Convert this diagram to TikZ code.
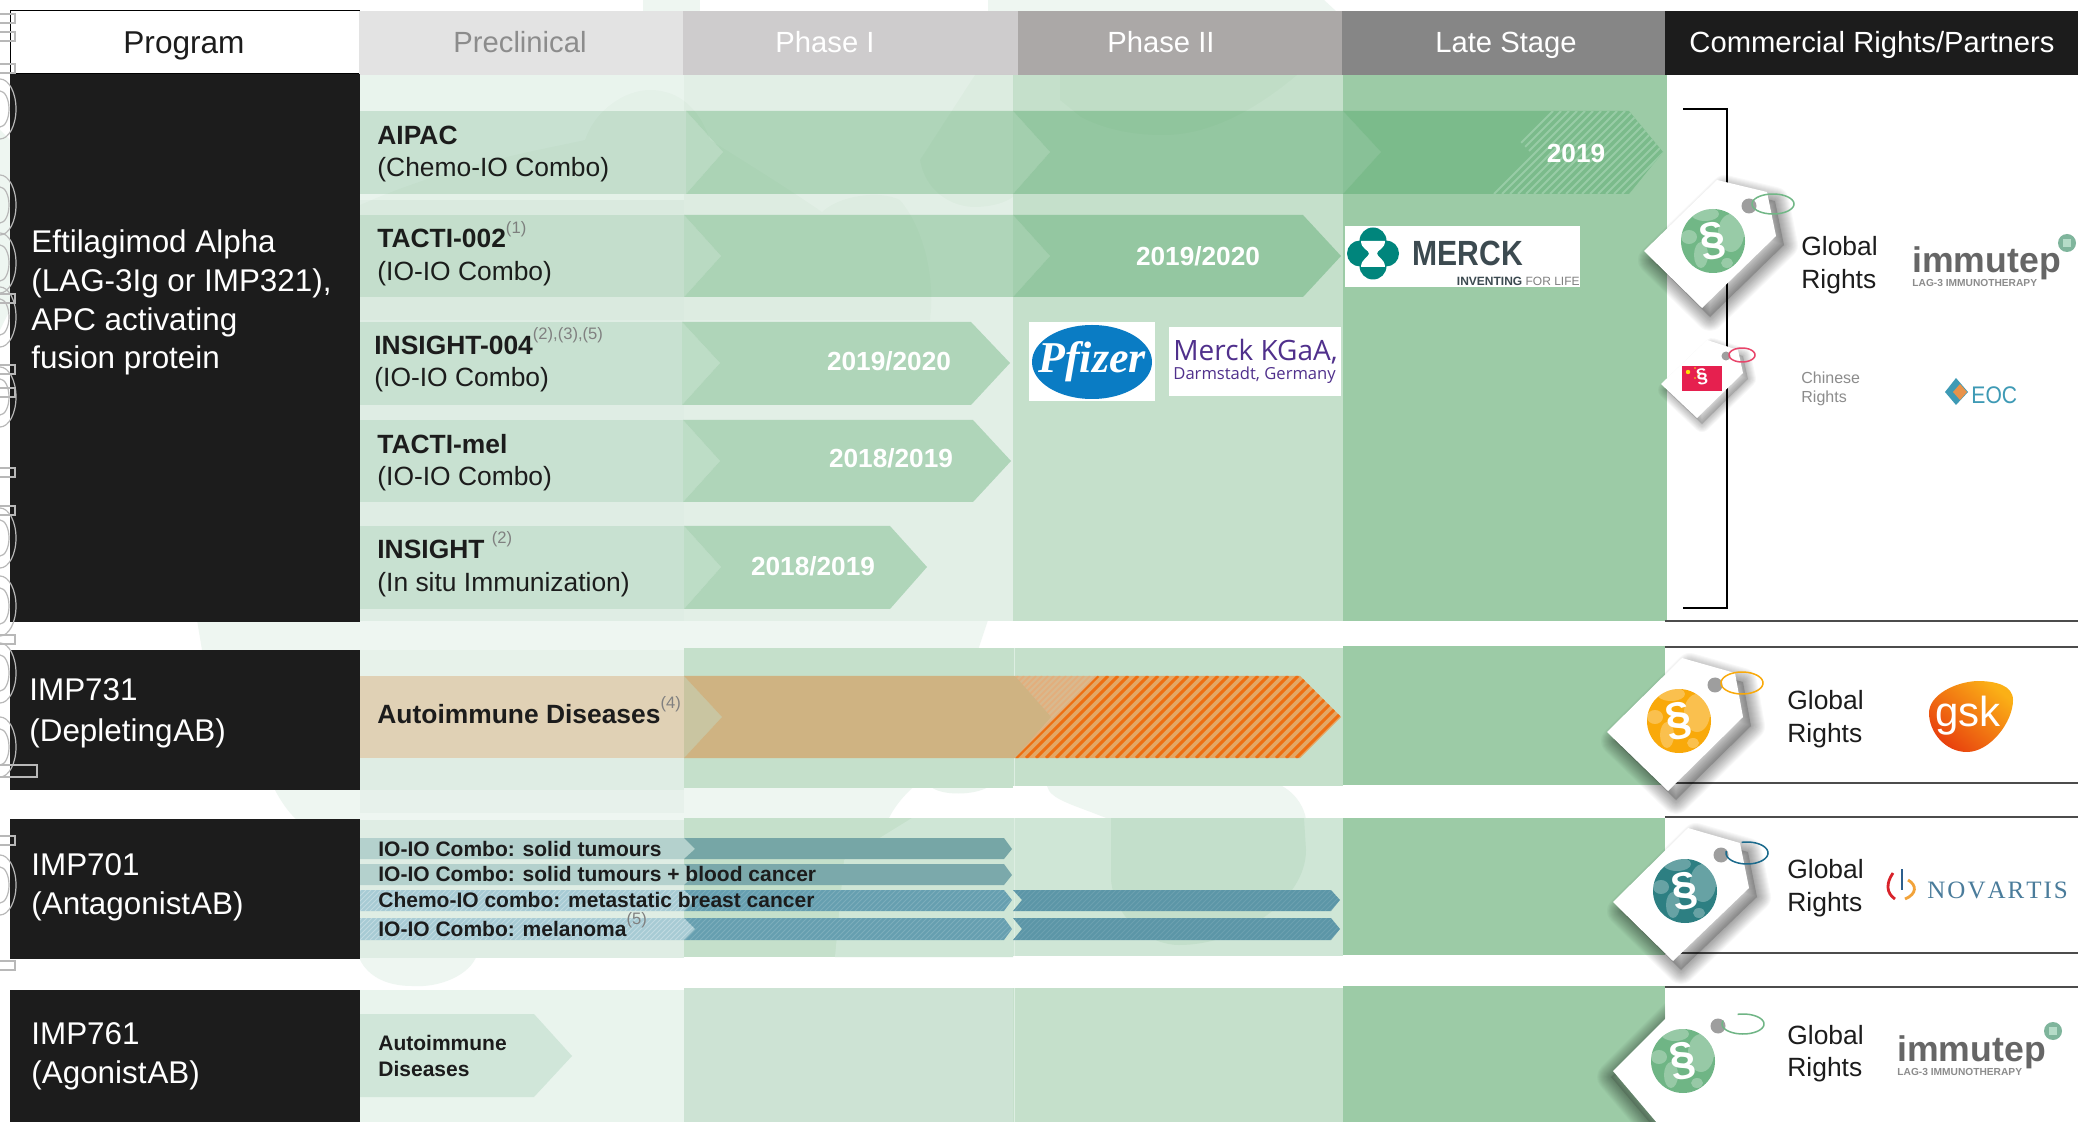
\documentclass[tikz,border=0pt]{standalone}
\usepackage{fontspec}
\usepackage{graphicx}
\setmainfont{Liberation Sans}
\newfontfamily\serifpf{Liberation Serif}
\newfontfamily\opensans{Open Sans}
\usetikzlibrary{calc}
\definecolor{ink}{HTML}{1C1C1C}
\definecolor{wm}{HTML}{EEF6F1}
\definecolor{wmb}{HTML}{E7F1EB}
\definecolor{bandA}{HTML}{E7F2EA}
\definecolor{bandB}{HTML}{C5E0CB}
\definecolor{bandC}{HTML}{9CCBA6}
\definecolor{bandD}{HTML}{E9F4ED}
\definecolor{bandE}{HTML}{DFEDE4}
\definecolor{bandF}{HTML}{E2EFE6}
\definecolor{bandG}{HTML}{CFE6D6}
\definecolor{bandH}{HTML}{C3DFCB}
\definecolor{bandI}{HTML}{CDE3D4}
\definecolor{edgeln}{HTML}{DDEEE2}
\definecolor{gA}{HTML}{C8E1D1}
\definecolor{gB}{HTML}{AFD5B9}
\definecolor{gC}{HTML}{94C7A1}
\definecolor{gD}{HTML}{7BBB8B}
\definecolor{tipA}{HTML}{BDDDC6}
\definecolor{tipB}{HTML}{A3CFAE}
\definecolor{tipC}{HTML}{88C197}
\definecolor{supg}{HTML}{808080}
\definecolor{hA}{HTML}{CECCCD}
\definecolor{hB}{HTML}{ABA8A7}
\definecolor{hC}{HTML}{868686}
\definecolor{hatchg}{HTML}{98CCA6}
\definecolor{tanA}{HTML}{E0D1B5}
\definecolor{tanB}{HTML}{CFB382}
\definecolor{tanC}{HTML}{E3A766}
\definecolor{tanD}{HTML}{D9B98E}
\definecolor{tanE}{HTML}{E3AE7C}
\definecolor{tanT}{HTML}{C9C5A1}
\definecolor{orangeh}{HTML}{EE6E12}
\definecolor{tlA}{HTML}{B4D1CD}
\definecolor{tlB}{HTML}{76A6A6}
\definecolor{tlC}{HTML}{7BA9AB}
\definecolor{tlD}{HTML}{A7CBD4}
\definecolor{tlE}{HTML}{669FB0}
\definecolor{tlF}{HTML}{5C96A7}
\definecolor{paleg}{HTML}{D0E6D9}
\definecolor{merckt}{HTML}{00857C}
\definecolor{merckd}{HTML}{3C4A50}
\definecolor{pfz}{HTML}{0A7CC4}
\definecolor{kgaa}{HTML}{50308C}
\definecolor{tagg}{HTML}{71B786}
\definecolor{tago}{HTML}{F9A90A}
\definecolor{tagt}{HTML}{2D7F82}
\definecolor{tagf}{HTML}{6FB585}
\definecolor{ringt}{HTML}{1B6A8C}
\definecolor{tagr}{HTML}{E6204F}
\definecolor{ringr}{HTML}{E8456A}
\definecolor{imc}{HTML}{7FB59C}
\definecolor{imd}{HTML}{B5DCC8}
\definecolor{eocb}{HTML}{3E9AB5}
\definecolor{eoco}{HTML}{E8924A}
\definecolor{gskt}{HTML}{FBB016}
\definecolor{gskm}{HTML}{F07A10}
\definecolor{gskb}{HTML}{E8400E}
\definecolor{novr}{HTML}{D8232A}
\definecolor{novo}{HTML}{F2A33A}
\definecolor{novb}{HTML}{2C5F8D}
\definecolor{novt}{HTML}{4A7C9B}
\tikzset{
  x=0.5pt,y=-0.5pt,
  tx/.style={inner sep=0pt,anchor=base west},
  lab/.style={tx,font=\fontsize{13.2}{15}\selectfont,text=ink},
  prog/.style={tx,font=\fontsize{15.7}{18}\selectfont,text=white},
  head/.style={inner sep=0pt,anchor=base,font=\fontsize{14.6}{17}\selectfont},
  date/.style={inner sep=0pt,anchor=center,font=\fontsize{13.1}{15}\bfseries\selectfont,text=white},
  small/.style={tx,font=\fontsize{10.5}{12}\bfseries\selectfont,text=ink},
  rights/.style={tx,font=\fontsize{13.2}{15}\selectfont,text=ink},
  sect/.style={inner sep=0pt,anchor=center,font=\fontsize{23}{24}\bfseries\selectfont,text=white,rotate=10},
  rule/.style={draw=black!70,line width=.9pt},
  outl/.style={draw=black!28,line width=.6pt},
}
\newcommand\sups[1]{\raisebox{.55em}{\fontsize{8.3}{9}\mdseries\selectfont\color{supg}#1}}
% hatch: polygon, x from, x to, ytop, ybot, colour, spacing, width
\newcommand\hatchpoly[8]{\begin{scope}\clip #1;
  \foreach \k in {#2,\the\numexpr#2+#7\relax,...,#3}{\draw[#6,line width=#8] (\k,#5) -- ({\k+#5-#4},#4);}
\end{scope}}
\newcommand\tagshadow[4]{\begin{scope}[shift={(#2,#3)}]
  \fill[black,opacity=#4] #1;
  \foreach \w in {1,2,...,14}{\draw[black,opacity=.026,line width=\w pt,line join=round] #1;}
\end{scope}}
\newcommand\tagbody[5]{% path, circle centre, hole, colour
  \fill[white] #1;
  \fill[#4] #2 circle[radius=32];
  \begin{scope}\clip #2 circle[radius=32];
    \fill[white,opacity=.28] ($#2+(-8,-27)$) ellipse[x radius=14,y radius=7];
    \fill[white,opacity=.28] ($#2+(18,-8)$) ellipse[x radius=13,y radius=19];
    \fill[white,opacity=.28] ($#2+(-24,-4)$) ellipse[x radius=8,y radius=7];
    \fill[white,opacity=.28] ($#2+(-12,14)$) ellipse[x radius=7,y radius=13];
    \fill[white,opacity=.28] ($#2+(14,22)$) ellipse[x radius=6,y radius=5];
  \end{scope}
  \fill[black!38] #3 circle[radius=#5];
}
\newcommand\ringdraw[7]{\draw[#7,line width=.75pt] plot[smooth,domain=#5:#6,samples=40] ({#1+#3*cos(\x)},{#2+#4*sin(\x)});}
\begin{document}
\begin{tikzpicture}
\path[use as bounding box] (0,0) rectangle (2078,1122);
\clip (0,0) rectangle (2078,1122);
\fill[white] (0,0) rectangle (2078,1122);
% watermark
\fill[wm] (0,130) -- (10,140) -- (10,310) -- (0,330) -- cycle;
\fill[wm] (643,0) -- (700,0) -- (700,12) -- (643,12) -- cycle;
\fill[wm] (988,0) -- (1324,0) -- (1337,12) -- (988,12) -- cycle;
\fill[wm] (197,620) -- (988,620) -- (978,650) -- (202,650) -- cycle;
\fill[wm] (274,788) .. controls (280,800) and (288,812) .. (297,820) -- (888,820) .. controls (895,805) and (905,795) .. (912,788) -- cycle;
\fill[wmb] (360,790) rectangle (684,813);
\fill[wm] (1047,786) .. controls (1050,800) and (1075,805) .. (1111,820) -- (1306,820) .. controls (1305,810) and (1298,795) .. (1282,786) -- cycle;
\fill[wm] (358,955) -- (477,955) .. controls (470,975) and (440,988) .. (412,986) .. controls (385,986) and (365,975) .. (358,955) -- cycle;
\fill[wm!70!bandA] (930,786) .. controls (940,796) and (975,796) .. (990,786) -- cycle;
% bands
\fill[bandD] (360,75) rectangle (684,200);
\fill[bandE] (360,200) rectangle (684,621);
\fill[bandF] (684,75) rectangle (1013,621);
\fill[bandB] (1013,75) rectangle (1343,621);
\fill[bandC] (1343,75) rectangle (1667,621);
\fill[bandA] (360,650) rectangle (684,725);
\fill[bandE] (360,725) rectangle (684,790);
\fill[bandB] (684,648) rectangle (1013,788);
\fill[bandB] (1013,648) rectangle (1343,786);
\fill[bandC] (1343,646) rectangle (1665,785);
\fill[bandE] (360,820) rectangle (684,958);
\fill[bandB] (684,818) rectangle (1013,957);
\fill[bandG] (912,818) -- (844,860) -- (835,957) -- (1013,957) -- (1013,818) -- cycle;
\fill[bandG] (1013,818) rectangle (1343,956);
\fill[bandH] (1111,818) -- (1111,880) .. controls (1115,920) and (1150,945) .. (1179,945) .. controls (1240,945) and (1306,900) .. (1306,850) -- (1304,818) -- cycle;
\fill[bandC] (1343,818) rectangle (1665,955);
\fill[bandD] (360,990) rectangle (684,1122);
\fill[bandI] (684,988) rectangle (1013,1122);
\fill[bandB] (1013,988) rectangle (1343,1122);
\fill[bandC] (1343,986) rectangle (1665,1122);
\fill[white] (1667,75) rectangle (2078,621);
\draw[edgeln,line width=.4pt] (1014,648) -- (1014,786);
\draw[edgeln,line width=.4pt] (1014,818) -- (1014,956);
\draw[edgeln,line width=.4pt] (1014,988) -- (1014,1122);
% headers
\draw[black,line width=.5pt,fill=white] (10,11) rectangle (359,74);
\node[head,text=ink,font=\fontsize{15.8}{18}\selectfont] (hprog) at (184,54) {Program};
\fill[black!11] (359,11) rectangle (683,75);
\fill[hA] (683,11) rectangle (1018,75);
\fill[hB] (1018,11) rectangle (1342,75);
\fill[hC] (1342,11) rectangle (1665,75);
\fill[ink] (1665,11) rectangle (2078,75);
\node[head,text=black!45] (hpre) at (520,53) {Preclinical};
\node[head,text=white] (hp1) at (825,53) {Phase I};
\node[head,text=white] (hp2) at (1161,53) {Phase II};
\node[head,text=white] (hls) at (1506,53) {Late Stage};
\node[head,text=white] (hcr) at (1872,53) {Commercial Rights/Partners};
% program boxes
\fill[ink] (10,74) rectangle (360,622);
\fill[ink] (10,650) rectangle (360,790);
\fill[ink] (10,819) rectangle (360,959);
\fill[ink] (10,990) rectangle (360,1122);
% left-edge outlines
\foreach \yy in {109,205,263,317,397,538,606,673,747,885}{
  \draw[outl] (0,\yy) ellipse[x radius=16,y radius=30];
  \draw[outl] (0,\yy) ellipse[x radius=9,y radius=18];}
\foreach \yy in {14,32,64,294,365,388,468,506,635,836,961}{\draw[outl] (-3,\yy) rectangle (15,{\yy+9});}
\draw[outl] (-3,765) rectangle (37,777);
\node[prog] (e1) at (31,253) {Eftilagimod Alpha};
\node[prog] (e2) at (31,292) {(LAG-3Ig or IMP321),};
\node[prog] (e3) at (31,331) {APC activating};
\node[prog] (e4) at (31,369) {fusion protein};
\node[prog] (i1) at (29,701) {IMP731};
\node[prog] (i2) at (29,741) {(Depleting\kern.5pt AB)};
\node[prog] (i3) at (31,875) {IMP701};
\node[prog] (i4) at (31,914) {(Antagonist\kern.5pt AB)};
\node[prog] (i5) at (31,1044) {IMP761};
\node[prog] (i6) at (31,1083) {(Agonist\kern.5pt AB)};
% AIPAC bar
\fill[gA] (360,111) -- (686,111) -- (686,194) -- (360,194) -- cycle;
\fill[tipA] (686,111) -- (723,152) -- (686,194) -- cycle;
\fill[gB] (686,111) -- (1013,111) -- (1013,194) -- (686,194) -- (723,152) -- cycle;
\fill[tipB] (1013,111) -- (1050,152) -- (1013,194) -- cycle;
\fill[gC] (1013,111) -- (1343,111) -- (1343,194) -- (1013,194) -- (1050,152) -- cycle;
\fill[tipC] (1343,111) -- (1381,152) -- (1343,194) -- cycle;
\fill[gD] (1343,111) -- (1629,111) -- (1663,152) -- (1629,194) -- (1343,194) -- (1381,152) -- cycle;
\hatchpoly{(1491,111) -- (1629,111) -- (1663,152) -- (1629,194) -- (1491,194) -- (1530,152) -- cycle}{1470}{1670}{111}{194}{hatchg}{8}{.9pt}
\node[date] (d1) at (1576,153) {2019};
\node[lab] (l1a) at (377,144.5) {\bfseries AIPAC};
\node[lab] (l1b) at (377,176.5) {(Chemo-IO Combo)};
% TACTI-002
\fill[gA] (360,215) -- (684,215) -- (684,297) -- (360,297) -- cycle;
\fill[tipA] (684,215) -- (721,256) -- (684,297) -- cycle;
\fill[gB] (684,215) -- (1013,215) -- (1013,297) -- (684,297) -- (721,256) -- cycle;
\fill[tipB] (1013,215) -- (1050,256) -- (1013,297) -- cycle;
\fill[gC] (1013,215) -- (1303,215) -- (1341,256) -- (1303,297) -- (1013,297) -- (1050,256) -- cycle;
\node[date] (d2) at (1198,256) {2019/2020};
\node[lab] (l2a) at (377,248) {\bfseries TACTI-002\sups{(1)}};
\node[lab] (l2b) at (377,280.5) {(IO-IO Combo)};
% INSIGHT-004
\fill[gA] (360,322) -- (682,322) -- (682,405) -- (360,405) -- cycle;
\fill[tipA] (682,322) -- (720,363) -- (682,405) -- cycle;
\fill[gB] (682,322) -- (971,322) -- (1010,363) -- (971,405) -- (682,405) -- (720,363) -- cycle;
\node[date] (d3) at (889,361) {2019/2020};
\node[lab] (l3a) at (374,354.5) {\bfseries INSIGHT-004\sups{(2),(3),(5)}};
\node[lab] (l3b) at (374,386.5) {(IO-IO Combo)};
% TACTI-mel
\fill[gA] (360,420) -- (683,420) -- (683,502) -- (360,502) -- cycle;
\fill[tipA] (683,420) -- (720,461) -- (683,502) -- cycle;
\fill[gB] (683,420) -- (973,420) -- (1011,461) -- (973,502) -- (683,502) -- (720,461) -- cycle;
\node[date] (d4) at (891,458) {2018/2019};
\node[lab] (l4a) at (377,453.5) {\bfseries TACTI-mel};
\node[lab] (l4b) at (377,485.5) {(IO-IO Combo)};
% INSIGHT
\fill[gA] (360,526) -- (684,526) -- (684,609) -- (360,609) -- cycle;
\fill[tipA] (684,526) -- (721,567) -- (684,609) -- cycle;
\fill[gB] (684,526) -- (890,526) -- (927,567) -- (890,609) -- (684,609) -- (721,567) -- cycle;
\node[date] (d5) at (813,566) {2018/2019};
\node[lab] (l5a) at (377,558.5) {\bfseries INSIGHT \sups{(2)}};
\node[lab] (l5b) at (377,591.5) {(In situ Immunization)};
% watermark tint over row 1
\fill[green!45!black,opacity=.018] (360,205) .. controls (450,165) and (540,150) .. (585,140) .. controls (595,110) and (625,90) .. (650,90) .. controls (680,90) and (700,110) .. (710,140) .. controls (750,165) and (790,190) .. (822,212) .. controls (840,195) and (880,190) .. (900,200) .. controls (925,230) and (935,280) .. (930,320) -- (360,320) -- cycle;
\fill[green!45!black,opacity=.025] (975,75) -- (920,160) .. controls (925,190) and (950,207) .. (975,207) .. controls (990,207) and (1005,203) .. (1013,197) -- (1013,75) -- cycle;
\fill[green!45!black,opacity=.025] (1060,75) -- (1060,100) -- (1081,117) .. controls (1110,132) and (1140,135) .. (1163,135) .. controls (1210,135) and (1255,110) .. (1297,75) -- cycle;
% Autoimmune
\fill[tanA] (360,676) -- (684,676) -- (684,758) -- (360,758) -- cycle;
\fill[tanT] (684,676) -- (722,717) -- (684,758) -- cycle;
\fill[tanD] (1015,676) -- (1097,676) -- (1015,758) -- cycle;
\hatchpoly{(1015,676) -- (1097,676) -- (1015,758) -- cycle}{930}{1100}{676}{758}{tanE}{6}{.8pt}
\fill[tanB] (684,676) -- (1015,676) -- (1051,717) -- (1015,758) -- (684,758) -- (722,717) -- cycle;
\fill[tanC] (1097,676) -- (1300,676) -- (1341,717) -- (1300,758) -- (1015,758) -- cycle;
\hatchpoly{(1097,676) -- (1300,676) -- (1341,717) -- (1300,758) -- (1015,758) -- cycle}{1006}{1346}{676}{758}{orangeh}{10}{1.5pt}
\node[lab] (l6) at (377,723.5) {\bfseries Autoimmune Diseases\sups{(4)}};
% IMP701 bars
\fill[tlA] (360,838) -- (684,838) -- (695,849) -- (684,859) -- (360,859) -- cycle;
\fill[tlB] (684,838) -- (1004,838) -- (1012,849) -- (1004,859) -- (684,859) -- (695,849) -- cycle;
\fill[tlA] (360,864) -- (684,864) -- (695,875) -- (684,885) -- (360,885) -- cycle;
\fill[tlC] (684,864) -- (1004,864) -- (1012,875) -- (1004,885) -- (684,885) -- (695,875) -- cycle;
\fill[tlD] (360,890) -- (684,890) -- (695,900) -- (684,911) -- (360,911) -- cycle;
\fill[tlE] (684,890) -- (1004,890) -- (1012,900) -- (1004,911) -- (684,911) -- (695,900) -- cycle;
\fill[tlF] (1013,890) -- (1331,890) -- (1340,900) -- (1331,911) -- (1013,911) -- (1022,900) -- cycle;
\fill[tlD] (360,918) -- (684,918) -- (695,929) -- (684,940) -- (360,940) -- cycle;
\fill[tlE] (684,918) -- (1004,918) -- (1012,929) -- (1004,940) -- (684,940) -- (695,929) -- cycle;
\fill[tlF] (1013,918) -- (1331,918) -- (1340,929) -- (1331,940) -- (1013,940) -- (1022,929) -- cycle;
\hatchpoly{(360,890) -- (684,890) -- (695,900) -- (684,911) -- (360,911) -- cycle}{340}{700}{890}{911}{white,opacity=.3}{5}{.5pt}
\hatchpoly{(360,918) -- (684,918) -- (695,929) -- (684,940) -- (360,940) -- cycle}{340}{700}{918}{940}{white,opacity=.3}{5}{.5pt}
\hatchpoly{(684,890) -- (1004,890) -- (1012,900) -- (1004,911) -- (684,911) -- (695,900) -- cycle}{660}{1012}{890}{911}{white,opacity=.15}{5}{.5pt}
\hatchpoly{(684,918) -- (1004,918) -- (1012,929) -- (1004,940) -- (684,940) -- (695,929) -- cycle}{660}{1012}{918}{940}{white,opacity=.15}{5}{.5pt}
\hatchpoly{(1013,890) -- (1331,890) -- (1340,900) -- (1331,911) -- (1013,911) -- (1022,900) -- cycle}{995}{1340}{890}{911}{white,opacity=.1}{5}{.5pt}
\hatchpoly{(1013,918) -- (1331,918) -- (1340,929) -- (1331,940) -- (1013,940) -- (1022,929) -- cycle}{995}{1340}{918}{940}{white,opacity=.1}{5}{.5pt}
\node[small] (b1) at (378,856.5) {IO-IO Combo: solid tumours};
\node[small] (b2) at (378,881.5) {IO-IO Combo: solid tumours + blood cancer};
\node[small] (b3) at (378,907.5) {Chemo-IO combo: metastatic breast cancer};
\node[small] (b4) at (378,936.5) {IO-IO Combo: melanoma\sups{(5)}};
% IMP761
\fill[paleg] (360,1014) -- (534,1014) -- (572,1056) -- (534,1097) -- (360,1097) -- cycle;
\node[small] (c1) at (378,1050.5) {Autoimmune};
\node[small] (c2) at (378,1076.5) {Diseases};
% Merck
\fill[white] (1345,226) rectangle (1580,287);
\fill[merckt] (1373,241) circle[radius=13.5];
\fill[merckt] (1373,266) circle[radius=13.5];
\fill[merckt] (1360,253.5) circle[radius=13];
\fill[merckt] (1386,253.5) circle[radius=13];
\fill[white] (1361,241) -- (1385,241) .. controls (1385,249) and (1377,250) .. (1377,253.5) .. controls (1377,257) and (1385,259) .. (1385,267) -- (1361,267) .. controls (1361,259) and (1369,257) .. (1369,253.5) .. controls (1369,250) and (1361,249) .. (1361,241) -- cycle;
\node[inner sep=0pt,anchor=base west,font=\fontsize{17.5}{20}\bfseries\selectfont,text=merckd] (mk) at (1412,266) {\scalebox{.86}[1]{MERCK}};
\node[inner sep=0pt,anchor=base east,font=\fontsize{6}{7}\selectfont,text=merckd] (mk2) at (1580,285.5) {{\bfseries INVENTING} {\color{black!50}FOR LIFE}};
% Pfizer
\fill[white] (1029,322) rectangle (1155,401);
\fill[pfz] (1092,362) ellipse[x radius=60,y radius=37];
\node[inner sep=0pt,anchor=center,font=\serifpf\fontsize{22}{26}\bfseries\itshape\selectfont,text=white] (pf) at (1092,362) {Pfizer};
% Merck KGaA
\fill[white] (1169,327) rectangle (1341,396);
\node[tx,font=\opensans\fontsize{14}{15}\selectfont,text=kgaa] (kg1) at (1173,361) {Merck KGaA,};
\node[tx,font=\opensans\fontsize{8.3}{9}\selectfont,text=kgaa] (kg2) at (1173,380) {Darmstadt, Germany};
% lines, bracket
\draw[rule] (1665,621) -- (2078,621);
\draw[rule] (1665,647) -- (2078,647);
\draw[rule] (1665,783) -- (2078,783);
\draw[rule] (1665,817) -- (2078,817);
\draw[rule] (1665,953) -- (2078,953);
\draw[rule] (1665,987) -- (2078,987);
\draw[black,line width=.55pt] (1683,109) -- (1727,109) -- (1727,608) -- (1683,608);
% tag 1
\newcommand\tagA{(1644,251) -- (1717,180) -- (1767,192) -- (1776,236) -- (1702,308) -- cycle}
\tagshadow{\tagA}{8}{9}{.16}
\tagbody{\tagA}{(1713,241)}{(1749,206)}{tagg}{7.5}
\ringdraw{1773}{204}{21}{10}{0}{360}{tagg}
\node[sect] (s1) at (1713,241) {\S};
% tag 2
\newcommand\tagB{(1661,384) -- (1707,340) -- (1738,350) -- (1743,373) -- (1697,418) -- cycle}
\begin{scope}[shift={(5,6)}]
\fill[black,opacity=.14] \tagB;
\foreach \w in {1,2,...,8}{\draw[black,opacity=.03,line width=\w pt,line join=round] \tagB;}
\end{scope}
\fill[white] \tagB;
\fill[tagr] (1682,366) rectangle (1722,391);
\fill[yellow!85!orange] (1688,372) circle[radius=2.2];
\foreach \pp in {(1695,368),(1698,371),(1698,375),(1695,378)}{\fill[yellow!85!orange] \pp circle[radius=.8];}
\node[sect,font=\fontsize{10}{11}\bfseries\selectfont] (s2) at (1702,377) {\S};
\fill[black!38] (1726,356) circle[radius=4.5];
\ringdraw{1742}{355}{13}{7}{0}{360}{ringr}
% tag 3
\newcommand\tagC{(1607,732) -- (1682,658) -- (1735,673) -- (1743,717) -- (1668,791) -- cycle}
\tagshadow{\tagC}{8}{9}{.16}
\tagbody{\tagC}{(1679,721)}{(1715,685)}{tago}{7.5}
\ringdraw{1742}{683}{21}{11}{0}{360}{tago}
\node[sect] (s3) at (1679,721) {\S};
% tag 4
\newcommand\tagD{(1613,902) -- (1688,828) -- (1740,843) -- (1749,888) -- (1673,961) -- cycle}
\tagshadow{\tagD}{8}{9}{.16}
\tagbody{\tagD}{(1685,891)}{(1721,855)}{tagt}{7.5}
\ringdraw{1747}{853}{21}{11}{-105}{190}{ringt}
\node[sect] (s4) at (1685,891) {\S};
% tag 5
\newcommand\tagE{(1613,1071) -- (1684,1000) -- (1739,1008) -- (1744,1055) -- (1663,1130) -- cycle}
\begin{scope}
\clip (1590,990) rectangle (1665,1122);
\tagshadow{\tagE}{-2}{6}{.12}
\end{scope}
\tagbody{\tagE}{(1683,1061)}{(1718,1026)}{tagf}{7.5}
\ringdraw{1743}{1024}{21}{10}{-105}{200}{tagf}
\node[sect] (s5) at (1683,1061) {\S};
% rights text
\node[rights] (r1a) at (1801,256) {Global};
\node[rights] (r1b) at (1801,289) {Rights};
\node[tx,font=\fontsize{8}{9}\selectfont,text=black!45] (r2a) at (1801,384) {Chinese};
\node[tx,font=\fontsize{8}{9}\selectfont,text=black!45] (r2b) at (1801,403) {Rights};
\node[rights] (r3a) at (1787,710) {Global};
\node[rights] (r3b) at (1787,742) {Rights};
\node[rights] (r4a) at (1787,878) {Global};
\node[rights] (r4b) at (1787,911) {Rights};
\node[rights] (r5a) at (1787,1044) {Global};
\node[rights] (r5b) at (1787,1076) {Rights};
% immutep logos
\node[tx,font=\fontsize{17.8}{20}\bfseries\selectfont,text=black!60] (im1) at (1912,273) {immutep};
\node[tx,font=\fontsize{5.1}{6}\bfseries\selectfont,text=black!45] (im1b) at (1912,287) {LAG-3 IMMUNOTHERAPY};
\fill[imc] (2067,243) circle[radius=9];
\fill[imd] (2063,239) rectangle (2071,247);
\node[tx,font=\fontsize{17.8}{20}\bfseries\selectfont,text=black!60] (im2) at (1897,1061) {immutep};
\node[tx,font=\fontsize{5.1}{6}\bfseries\selectfont,text=black!45] (im2b) at (1897,1075) {LAG-3 IMMUNOTHERAPY};
\fill[imc] (2053,1031) circle[radius=9];
\fill[imd] (2049,1027) rectangle (2057,1035);
% EOC
\fill[eocb] (1945,392) -- (1956,378) -- (1968,392) -- (1956,405) -- cycle;
\fill[eoco] (1953,392) -- (1960,384) -- (1967,392) -- (1960,400) -- cycle;
\node[inner sep=0pt,anchor=base west,font=\fontsize{12}{13}\selectfont,text=eocb] (eoc) at (1971,403.5) {\scalebox{.88}[1]{EOC}};
% GSK
\shade[top color=gskt,middle color=gskm,bottom color=gskb,shading angle=-40] (1977,681) .. controls (1995,681) and (2013,685) .. (2013,700) .. controls (2013,722) and (1990,752) .. (1967,752) .. controls (1945,752) and (1929,732) .. (1929,713) .. controls (1929,695) and (1955,682) .. (1977,681) -- cycle;
\node[inner sep=0pt,anchor=base,font=\fontsize{21}{23}\selectfont,text=white] (gsk) at (1968,726) {gsk};
% Novartis
\draw[novr,line width=1.4pt] (1893,873) .. controls (1886,883) and (1886,893) .. (1895,899);
\draw[novo,line width=1.4pt] (1908,880) .. controls (1917,885) and (1917,894) .. (1905,899);
\draw[novb,line width=1.2pt] (1902,869) -- (1902,890);
\node[tx,font=\serifpf\fontsize{12.5}{15}\selectfont,text=novt] (nov) at (1927,898) {N\kern1pt O\kern1pt V\kern1pt A\kern1pt R\kern1pt T\kern1pt I\kern1pt S};
\end{tikzpicture}
\end{document}
